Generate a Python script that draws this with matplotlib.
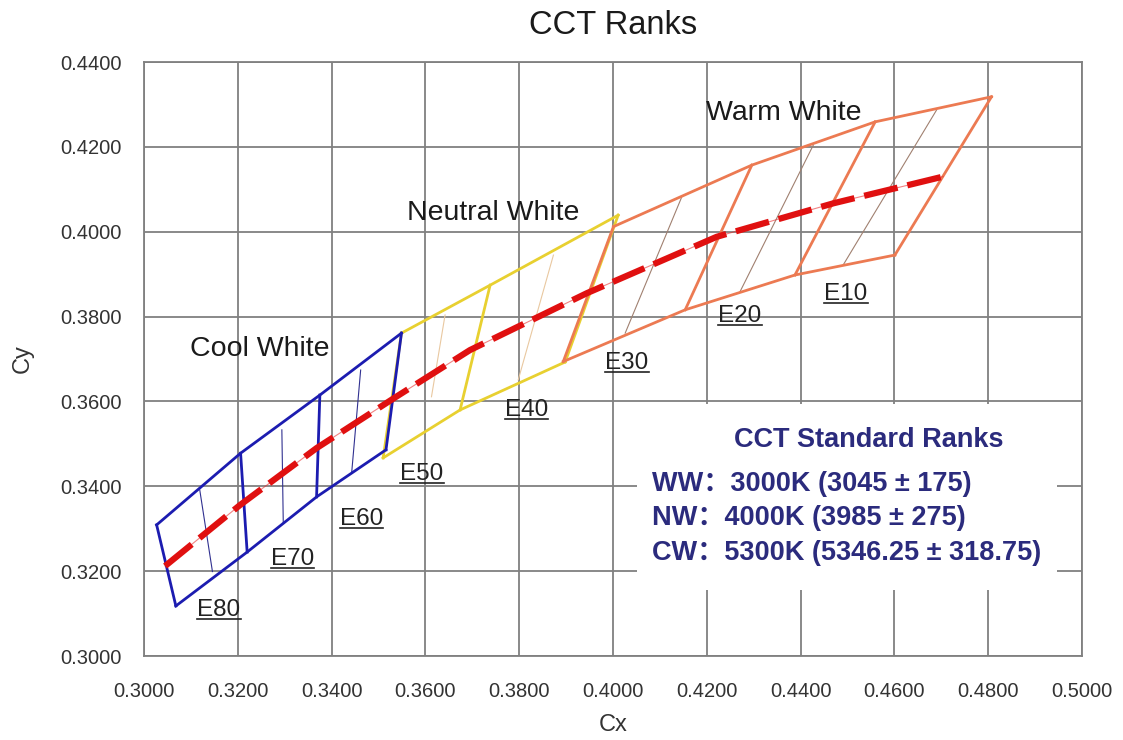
import matplotlib
matplotlib.use('Agg')
import matplotlib.pyplot as plt
import numpy as np
from matplotlib.lines import Line2D
from matplotlib.patches import Rectangle
from matplotlib.transforms import IdentityTransform

plt.rcParams['font.family'] = ['Liberation Sans', 'Noto Sans CJK SC', 'DejaVu Sans']

# rank boundaries (top and bottom corner of every dividing edge)
cool_top_x = [0.3027, 0.3206, 0.3375, 0.3549]
cool_top_y = [0.3309, 0.3478, 0.3615, 0.3761]
cool_bot_x = [0.3068, 0.3220, 0.3368, 0.3516]
cool_bot_y = [0.3118, 0.3245, 0.3375, 0.3486]
cool_mid_top_x = [0.3119, 0.3294, 0.3462]
cool_mid_top_y = [0.3391, 0.3533, 0.3674]
cool_mid_bot_x = [0.3146, 0.3297, 0.3443]
cool_mid_bot_y = [0.3199, 0.3313, 0.3434]

neutral_top_x = [0.3549, 0.3738, 0.4011]
neutral_top_y = [0.3761, 0.3874, 0.4039]
neutral_bot_x = [0.3510, 0.3674, 0.3898]
neutral_bot_y = [0.3467, 0.3580, 0.3693]
neutral_mid_top_x = [0.3642, 0.3873]
neutral_mid_top_y = [0.3804, 0.3945]
neutral_mid_bot_x = [0.3613, 0.3798]
neutral_mid_bot_y = [0.3611, 0.3651]

warm_top_x = [0.4001, 0.4296, 0.4559, 0.4807]
warm_top_y = [0.4012, 0.4157, 0.4259, 0.4318]
warm_bot_x = [0.3894, 0.4154, 0.4388, 0.4601]
warm_bot_y = [0.3694, 0.3816, 0.3898, 0.3945]
warm_mid_top_x = [0.4147, 0.4427, 0.4690]
warm_mid_top_y = [0.4083, 0.4204, 0.4287]
warm_mid_bot_x = [0.4026, 0.4271, 0.4491]
warm_mid_bot_y = [0.3761, 0.3859, 0.3922]

# black body locus
locus_x = [0.3045, 0.3205, 0.3368, 0.3532, 0.3695, 0.3944, 0.4221, 0.4470, 0.4704]
locus_y = [0.3212, 0.3356, 0.3490, 0.3607, 0.3721, 0.3855, 0.3988, 0.4067, 0.4130]

rank_names = ['E80', 'E70', 'E60', 'E50', 'E40', 'E30', 'E20', 'E10']
rank_x = [0.3160, 0.3316, 0.3463, 0.3593, 0.3815, 0.4030, 0.4271, 0.4497]
rank_y = [0.3108, 0.3229, 0.3323, 0.3429, 0.3580, 0.3691, 0.3801, 0.3853]

group_names = ['Cool White', 'Neutral White', 'Warm White']
group_x = [0.3247, 0.3745, 0.4365]
group_y = [0.3724, 0.4044, 0.4280]

x_ticks = [0.30, 0.32, 0.34, 0.36, 0.38, 0.40, 0.42, 0.44, 0.46, 0.48, 0.50]
y_ticks = [0.30, 0.32, 0.34, 0.36, 0.38, 0.40, 0.42, 0.44]

legend_title = 'CCT Standard Ranks'
legend_lines = ['WW：3000K (3045 ± 175)',
                'NW：4000K (3985 ± 275)',
                'CW：5300K (5346.25 ± 318.75)']

fig = plt.figure(figsize=(11.23, 7.4), dpi=100)
ax = fig.add_axes([0.1282, 0.1135, 0.8353, 0.8027])


def draw_group(top_x, top_y, bot_x, bot_y, mt_x, mt_y, mb_x, mb_y, color, thin):
    ax.plot(top_x, top_y, color=color, lw=2, zorder=3)
    ax.plot(bot_x, bot_y, color=color, lw=2, zorder=3)
    for i in range(len(top_x)):
        ax.plot([top_x[i], bot_x[i]], [top_y[i], bot_y[i]], color=color, lw=2, zorder=3)
    for i in range(len(mt_x)):
        ax.plot([mt_x[i], mb_x[i]], [mt_y[i], mb_y[i]], color=thin, lw=0.8, zorder=2.5)


draw_group(neutral_top_x, neutral_top_y, neutral_bot_x, neutral_bot_y,
           neutral_mid_top_x, neutral_mid_top_y, neutral_mid_bot_x, neutral_mid_bot_y,
           '#e8d030', '#e9c8a0')
draw_group(cool_top_x, cool_top_y, cool_bot_x, cool_bot_y,
           cool_mid_top_x, cool_mid_top_y, cool_mid_bot_x, cool_mid_bot_y,
           '#1c1cb0', '#303090')
draw_group(warm_top_x, warm_top_y, warm_bot_x, warm_bot_y,
           warm_mid_top_x, warm_mid_top_y, warm_mid_bot_x, warm_mid_bot_y,
           '#ec7a52', '#a08070')

ax.plot(locus_x, locus_y, color='#e83030', lw=0.8, alpha=0.6, zorder=4)
ax.plot(locus_x, locus_y, color='#e01010', lw=4.5, dashes=(5.5, 1.6), zorder=4)

labels = []
for name, x, y in zip(rank_names, rank_x, rank_y):
    labels.append(ax.text(x, y, name, fontsize=17.5, color='#222222',
                          ha='center', va='center', zorder=5))

for name, x, y in zip(group_names, group_x, group_y):
    ax.text(x, y, name, fontsize=20.5, color='#1a1a1a', ha='center', va='center', zorder=5)

# white panel for the standard ranks
ax.add_patch(Rectangle((0.5256, 0.111), 0.4477, 0.313, transform=ax.transAxes,
                       facecolor='white', edgecolor='none', zorder=1.5))
ax.text(0.773, 0.3636, legend_title, transform=ax.transAxes, fontsize=19.5,
        fontweight='bold', color='#2b2b7d', ha='center', va='center', zorder=5)
for i, line in enumerate(legend_lines):
    ax.text(0.5416, 0.2896 - i * 0.058, line, transform=ax.transAxes, fontsize=19.5,
            fontweight='bold', color='#2b2b7d', ha='left', va='center', zorder=5)

ax.set_xlim(0.30, 0.50)
ax.set_ylim(0.30, 0.44)
ax.set_xticks(x_ticks)
ax.set_yticks(y_ticks)
ax.set_xticklabels(['%.4f' % v for v in x_ticks])
ax.set_yticklabels(['%.4f' % v for v in y_ticks])
ax.tick_params(length=0, labelsize=14.5, labelcolor='#333333')
ax.tick_params(axis='x', pad=19)
ax.tick_params(axis='y', pad=16)
ax.grid(color='#808080', lw=1.3)
ax.set_axisbelow(True)
for s in ax.spines.values():
    s.set_color('#808080')
    s.set_linewidth(1.3)

ax.set_xlabel('Cx', fontsize=17, color='#333333', labelpad=9)
ax.set_ylabel('Cy', fontsize=17, color='#333333', labelpad=19)
ax.set_title('CCT Ranks', fontsize=23.5, color='#1a1a1a', pad=20)

# underline the rank labels
fig.canvas.draw()
renderer = fig.canvas.get_renderer()
for t in labels:
    bb = t.get_window_extent(renderer)
    fig.add_artist(Line2D([bb.x0, bb.x1], [bb.y0 + 2, bb.y0 + 2], lw=1.2,
                          color='#222222', transform=IdentityTransform()))

fig.savefig('out.png', dpi=100)
